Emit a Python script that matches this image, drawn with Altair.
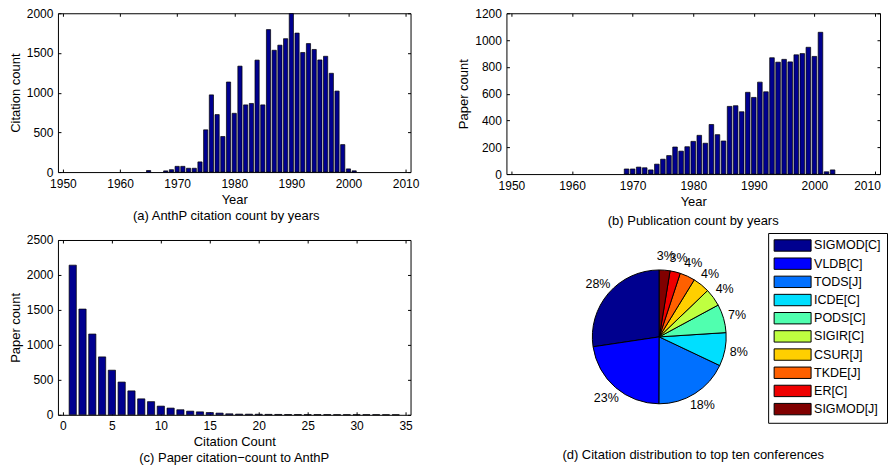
import altair as alt
import pandas as pd

FONT = "Liberation Sans"
NAVY = "#00008F"

# (a) AnthP citation count by years
cite_years = [1965, 1968, 1969, 1970, 1971, 1972, 1973, 1974, 1975, 1976, 1977, 1978, 1979,
              1980, 1981, 1982, 1983, 1984, 1985, 1986, 1987, 1988, 1989, 1990, 1991, 1992,
              1993, 1994, 1995, 1996, 1997, 1998, 1999, 2000, 2001]
cite_counts = [20, 15, 30, 72, 72, 48, 48, 128, 532, 972, 724, 448, 1134,
               740, 1334, 846, 864, 1410, 846, 1794, 1534, 1598, 1680, 1996, 1750, 1506,
               1618, 1544, 1412, 1458, 1244, 1020, 346, 40, 16]

# (b) Publication count by years
pub_years = list(range(1969, 2004))
pub_counts = [38, 38, 52, 47, 31, 74, 111, 138, 202, 171, 204, 244, 289, 230, 370,
              294, 247, 505, 510, 465, 610, 572, 686, 614, 868, 835, 856, 837, 890,
              899, 946, 878, 1058, 17, 31]

# (c) Paper citation-count to AnthP
cc_values = list(range(1, 35))
cc_papers = [2140, 1512, 1155, 828, 638, 468, 342, 228, 188, 124, 96, 72, 52, 42, 32,
             24, 14, 10, 9, 8, 6, 5, 4, 4, 3, 3, 3, 2, 2, 2, 2, 2, 1, 1]

# (d) Citation distribution to top ten conferences
venues = ["SIGMOD[C]", "VLDB[C]", "TODS[J]", "ICDE[C]", "PODS[C]", "SIGIR[C]",
          "CSUR[J]", "TKDE[J]", "ER[C]", "SIGMOD[J]"]
shares = [27.5, 22.7, 18.1, 8.1, 6.9, 4.3, 4.1, 3.7, 2.5, 2.6]
share_labels = ["28%", "23%", "18%", "8%", "7%", "4%", "4%", "4%", "3%", "3%"]
venue_colors = ["#00008F", "#0000FF", "#0070FF", "#00DFFF", "#50FFAF", "#BFFF40",
                "#FFCF00", "#FF6000", "#EF0000", "#800000"]

year_ticks = [1950, 1960, 1970, 1980, 1990, 2000, 2010]


def bar_panel(xs, ys, xdom, xticks, ydom, yticks, xtitle, ytitle, caption,
              w, h, bar_size, cap_dx, cap_offset, last_label_shift=0):
    df = pd.DataFrame({"x": xs, "y": ys})
    xscale = alt.Scale(domain=xdom, nice=False, zero=False)
    yscale = alt.Scale(domain=ydom, nice=False)
    common = dict(grid=False, domain=False, tickSize=3, tickColor="black",
                  tickWidth=1, offset=-3, labelOverlap=False)
    x_label_offset = {"condition": {"test": f"datum.value == {xdom[1]}",
                                    "value": last_label_shift}, "value": 0}
    bars = alt.Chart(df).mark_bar(size=bar_size, fill=NAVY, stroke="black",
                                  strokeWidth=0.7, orient="vertical").encode(
        x=alt.X("x:Q", scale=xscale,
                axis=alt.Axis(orient="bottom", values=xticks, format="d", title=xtitle,
                              labelFlush=False, labelPadding=6, titlePadding=4,
                              labelOffset=x_label_offset, **common)),
        y=alt.Y("y:Q", scale=yscale,
                axis=alt.Axis(orient="left", values=yticks, format="d", title=ytitle,
                              labelPadding=5, titlePadding=4, **common)),
    )
    frame_ticks = alt.Chart(df).mark_point(opacity=0).encode(
        x=alt.X("x:Q", scale=xscale,
                axis=alt.Axis(orient="top", values=xticks, labels=False, title=None, **common)),
        y=alt.Y("y:Q", scale=yscale,
                axis=alt.Axis(orient="right", values=yticks, labels=False, title=None, **common)),
    )
    return alt.layer(bars, frame_ticks).resolve_axis(x="independent", y="independent").properties(
        width=w, height=h,
        title=alt.TitleParams(caption, orient="bottom", frame="group", dx=cap_dx, offset=cap_offset),
    )


panel_a = bar_panel(cite_years, cite_counts, [1950, 2010], year_ticks, [0, 2000],
                    [0, 500, 1000, 1500, 2000], "Year", "Citation count",
                    "(a) AnthP citation count by years", 353, 159, 4.2, -8, 4)
panel_b = bar_panel(pub_years, pub_counts, [1950, 2010], year_ticks, [0, 1200],
                    [0, 200, 400, 600, 800, 1000, 1200], "Year", "Paper count",
                    "(b) Publication count by years", 374, 161, 4.6, 0, 7, -8)
panel_c = bar_panel(cc_values, cc_papers, [0, 35], [0, 5, 10, 15, 20, 25, 30, 35],
                    [0, 2500], [0, 500, 1000, 1500, 2000, 2500], "Citation Count",
                    "Paper count", "(c) Paper citation\u2212count to AnthP", 353, 175, 7.2, 0, 3)

pie_df = pd.DataFrame({"venue": venues, "share": shares, "label": share_labels,
                       "idx": list(range(len(venues)))})
theta = alt.Theta("share:Q", stack=True)
order = alt.Order("idx:Q", sort="descending")
arcs = alt.Chart(pie_df).mark_arc(radius=67, stroke="black", strokeWidth=1).encode(
    theta=theta,
    order=order,
    color=alt.Color("venue:N", scale=alt.Scale(domain=venues, range=venue_colors),
                    legend=alt.Legend(title=None, orient="none", legendX=711, legendY=220,
                                      symbolType="M-1.083,-0.95H5.083V0.95H-1.083Z",
                                      symbolSize=144,
                                      symbolStrokeColor="black", symbolStrokeWidth=1,
                                      symbolOpacity=1, labelFont=FONT, labelFontSize=12.5,
                                      labelColor="black", labelOffset=27, padding=6,
                                      rowPadding=1.2, strokeColor="black", fillColor="white")),
    x=alt.value(153),
    y=alt.value(97),
)
pct = alt.Chart(pie_df).mark_text(radius=81, font=FONT, fontSize=12.5, color="black").encode(
    theta=theta,
    order=order,
    text="label:N",
    x=alt.value(153),
    y=alt.value(97),
)
panel_d = alt.layer(arcs, pct).properties(
    width=250, height=175,
    view=alt.ViewBackground(strokeOpacity=0),
    title=alt.TitleParams("(d) Citation distribution to top ten conferences", orient="bottom",
                          frame="group", dx=62, offset=34),
)

chart = alt.concat(panel_a, panel_b, panel_c, panel_d, columns=2,
                   spacing=alt.RowColnumber(row=66, column=96),
                   bounds="flush", align="each").properties(
    padding={"left": 0, "top": -2, "right": 0, "bottom": 0}
).configure(font=FONT).configure_view(stroke="black", strokeWidth=1).configure_axis(
    labelFont=FONT, labelFontSize=12, labelColor="black", titleFont=FONT,
    titleFontSize=13, titleFontWeight="normal", titleColor="black"
).configure_title(font=FONT, fontSize=13, fontWeight="normal", color="black")

chart.save("out.html", embed_options={"renderer": "svg", "actions": False})
